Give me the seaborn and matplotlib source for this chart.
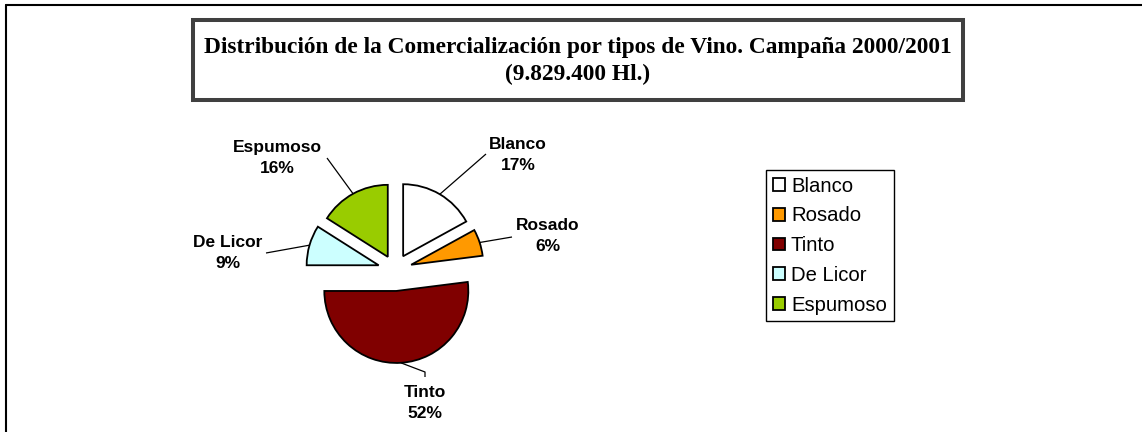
import numpy as np
import matplotlib
matplotlib.use("Agg")
import matplotlib.pyplot as plt
from matplotlib.patches import Rectangle
from matplotlib.lines import Line2D
import seaborn as sns

# ---- data ----
categories = ["Blanco", "Rosado", "Tinto", "De Licor", "Espumoso"]
percentages = [17, 6, 52, 9, 16]
colors = ["#FFFFFF", "#FF9900", "#800000", "#CCFFFF", "#99CC00"]
title_lines = ["Distribución de la Comercialización por tipos de Vino. Campaña 2000/2001",
               "(9.829.400 Hl.)"]

sns.set_theme(style="white")
plt.rcParams['font.family'] = ['Liberation Sans', 'DejaVu Sans']
plt.rcParams['text.color'] = 'black'

W, H = 1142, 432
fig = plt.figure(figsize=(W / 100, H / 100), dpi=100)
fig.patch.set_facecolor("white")
ax = fig.add_axes([0, 0, 1, 1])

def Y(py):
    return H - py

# layout (pixels)
center = (395, Y(270))
radius = 72
explode_px = [16, 17, 21, 17, 15]

wedges, _ = ax.pie(percentages, colors=colors, startangle=90, counterclock=False,
                   radius=radius, center=center, explode=explode_px,
                   wedgeprops=dict(edgecolor="black", linewidth=1.3))

# label layout: text centre and leader end point(s) in pixels
label_pos = [(518, 155), (548, 236), (425, 403), (228, 253), (277, 158)]
leader_end = [[(486, 154)], [(512, 237)], [(425, 372), (425, 377)],
              [(266, 253)], [(327, 158)]]

for w, cat, pct, lp, le in zip(wedges, categories, percentages, label_pos, leader_end):
    tm = np.deg2rad((w.theta1 + w.theta2) / 2)
    cx, cy = w.center
    sx, sy = cx + w.r * np.cos(tm), cy + w.r * np.sin(tm)
    xs = [sx] + [p[0] for p in le]
    ys = [sy] + [Y(p[1]) for p in le]
    ax.plot(xs, ys, color="black", lw=0.9, solid_capstyle="butt")
    ax.text(lp[0], Y(lp[1]), f"{cat}\n{pct}%", ha="center", va="center",
            fontsize=12.5, fontweight="bold", color="black", linespacing=1.45)

# title box
ax.add_patch(Rectangle((193, Y(100)), 770, 80, facecolor="white",
                       edgecolor="#404040", lw=2.9, zorder=3))
ax.text(578, Y(61), "\n".join(title_lines), ha="center", va="center",
        fontsize=16.8, fontweight="bold", family=["Liberation Serif", "DejaVu Serif"],
        linespacing=1.42, color="black", zorder=4)

ax.set_xlim(0, W)
ax.set_ylim(0, H)
ax.set_aspect("equal", adjustable="box")
ax.axis("off")

leg = ax.legend(wedges, categories, loc="upper left",
                bbox_to_anchor=(766 / W, 1 - 170 / H), bbox_transform=fig.transFigure,
                borderaxespad=0, fontsize=14.6, handlelength=0.6, handleheight=0.6,
                handletextpad=0.3, labelspacing=0.53, borderpad=0.33,
                fancybox=False, framealpha=1, edgecolor="black")
leg.get_frame().set_linewidth(1.0)
for t in leg.get_texts():
    t.set_color("black")

# figure border (top and left)
fig.add_artist(Line2D([6 / W, 1], [1 - 5 / H, 1 - 5 / H], color="black", lw=1.5,
                      transform=fig.transFigure))
fig.add_artist(Line2D([6 / W, 6 / W], [0, 1 - 5 / H], color="black", lw=1.5,
                      transform=fig.transFigure))

fig.savefig("out.png", dpi=100, facecolor="white")
